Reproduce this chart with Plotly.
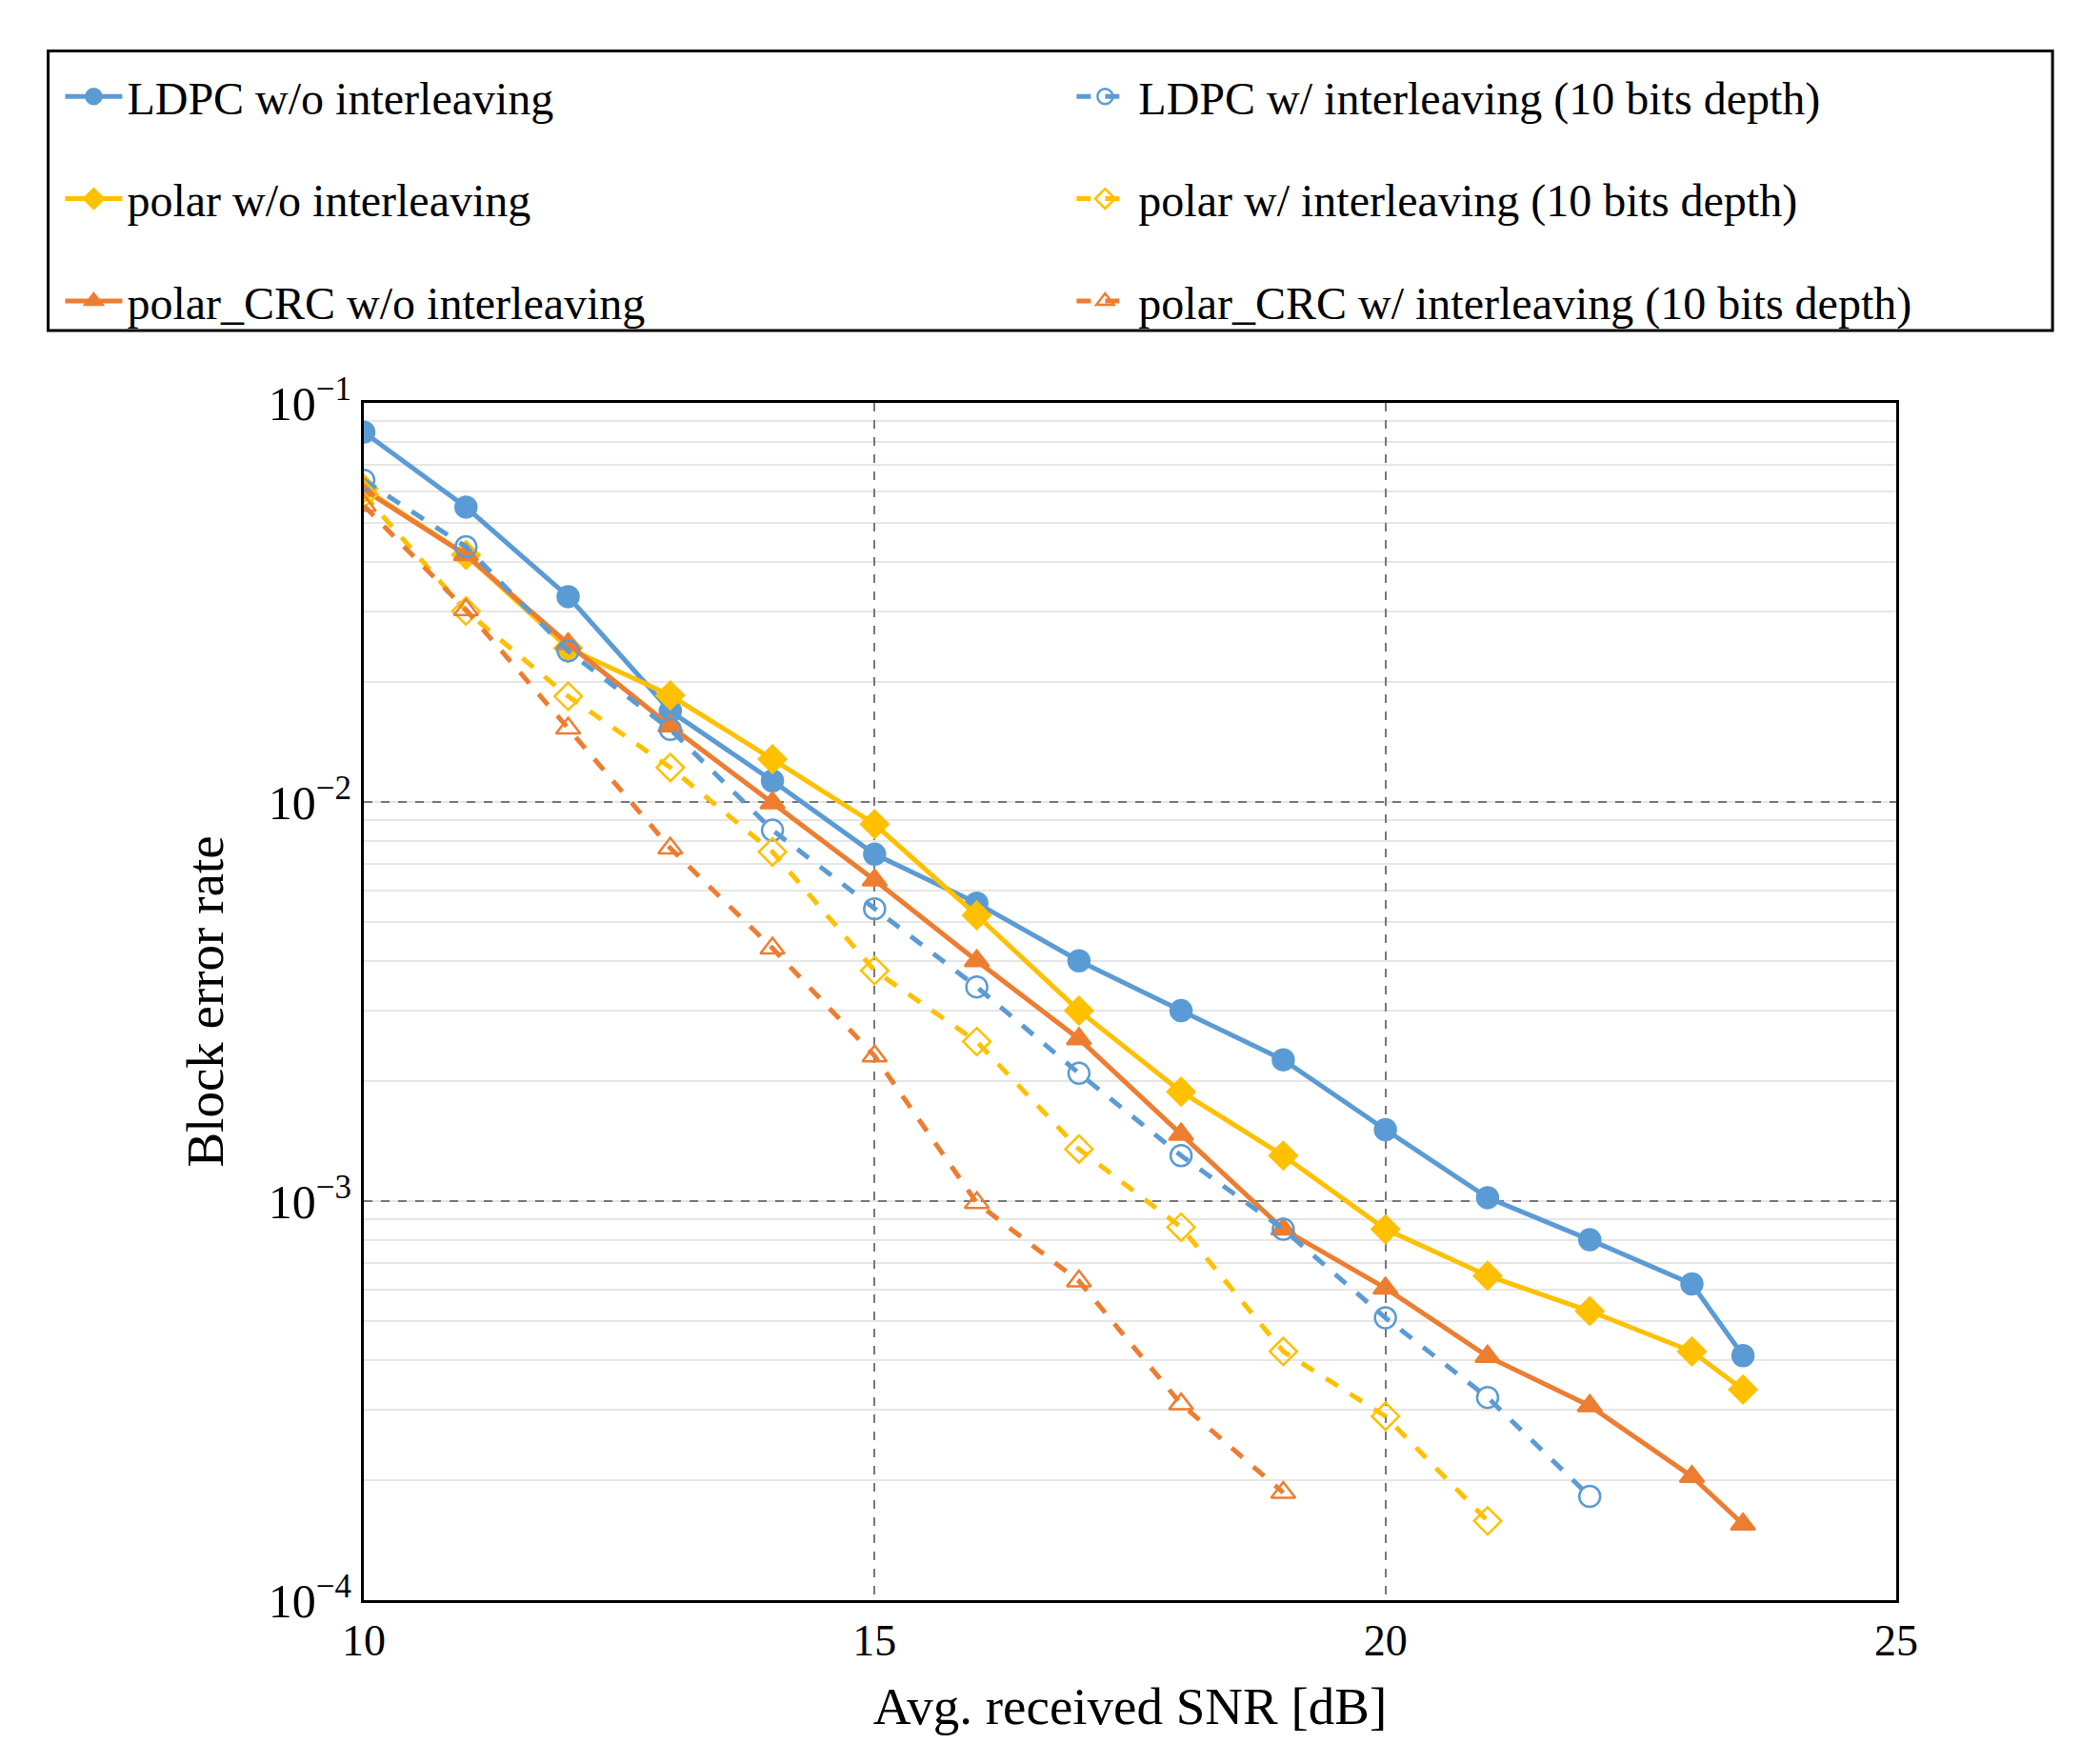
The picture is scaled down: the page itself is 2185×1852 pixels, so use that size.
import plotly.graph_objects as go

snr_a = [10, 11, 12, 13, 14, 15, 16, 17, 18, 19, 20, 21, 22, 23, 23.5]
ldpc_wo = [0.0845, 0.0548, 0.0327, 0.0169, 0.0113, 0.0074, 0.00558, 0.0040, 0.0030, 0.00226, 0.00151, 0.00102, 0.00080, 0.00062, 0.00041]
polar_wo = [0.061, 0.0416, 0.0243, 0.0185, 0.0128, 0.0088, 0.0052, 0.0030, 0.00188, 0.0013, 0.00085, 0.00065, 0.00053, 0.00042, 0.000337]
crc_wo = [0.0606, 0.0416, 0.0249, 0.0155, 0.00995, 0.00637, 0.0040, 0.00255, 0.00147, 0.00085, 0.000605, 0.000408, 0.000307, 0.000204, 0.000155]

snr_ldpc_w = [10, 11, 12, 13, 14, 15, 16, 17, 18, 19, 20, 21, 22]
ldpc_w = [0.064, 0.0436, 0.0239, 0.0152, 0.0085, 0.0054, 0.00344, 0.00209, 0.0013, 0.00085, 0.00051, 0.000322, 0.000182]
snr_polar_w = [10, 11, 12, 13, 14, 15, 16, 17, 18, 19, 20, 21]
polar_w = [0.059, 0.0301, 0.0184, 0.0122, 0.0075, 0.00378, 0.00251, 0.00135, 0.00086, 0.00042, 0.000289, 0.000158]
snr_crc_w = [10, 11, 12, 13, 14, 15, 16, 17, 18, 19]
crc_w = [0.0553, 0.0303, 0.0153, 0.00766, 0.0043, 0.00231, 0.00099, 0.00063, 0.00031, 0.000186]

BLUE, YEL, ORA = "#5B9BD5", "#FFC000", "#ED7D31"
FONT = "Liberation Serif"

fig = go.Figure()
series = [
    ("LDPC w/o interleaving", snr_a, ldpc_wo, BLUE, "solid", "circle", "legend"),
    ("polar w/o interleaving", snr_a, polar_wo, YEL, "solid", "diamond", "legend"),
    ("polar_CRC w/o interleaving", snr_a, crc_wo, ORA, "solid", "triangle-up", "legend"),
    ("LDPC w/ interleaving (10 bits depth)", snr_ldpc_w, ldpc_w, BLUE, "dash", "circle-open", "legend2"),
    ("polar w/ interleaving (10 bits depth)", snr_polar_w, polar_w, YEL, "dash", "diamond-open", "legend2"),
    ("polar_CRC w/ interleaving (10 bits depth)", snr_crc_w, crc_w, ORA, "dash", "triangle-up-open", "legend2"),
]
for name, x, y, c, dash, sym, leg in series:
    fig.add_trace(go.Scatter(
        x=x, y=y, name=name, mode="lines+markers", legend=leg, legendgroup=name,
        line=dict(color=c, width=5, dash=dash),
        marker=dict(symbol=sym, size=22, color=c, line=dict(color=c, width=2.5)),
    ))

leg_common = dict(x=0, y=1.286, xanchor="left", yanchor="top", bgcolor="rgba(0,0,0,0)",
                  font=dict(family=FONT, size=48), tracegroupgap=42, itemwidth=60)
fig.update_layout(
    width=2185, height=1852,
    paper_bgcolor="white", plot_bgcolor="white",
    font=dict(family=FONT, size=46, color="black"),
    margin=dict(l=374, r=202, t=415, b=180),
    legend={**leg_common, "x": -0.198},
    legend2={**leg_common, "x": 0.462},
    shapes=[dict(type="rect", xref="paper", yref="paper", x0=-0.206, x1=1.102,
                 y0=1.0605, y1=1.294, line=dict(color="black", width=3))],
)
fig.update_xaxes(
    range=[10, 25], tickvals=[10, 15, 20, 25], showline=True, linecolor="black",
    linewidth=3, mirror=True, showgrid=True, gridcolor="#777777", griddash="dash",
    gridwidth=2, zeroline=False, ticks="", title=dict(text="Avg. received SNR [dB]", standoff=25),
)
fig.update_yaxes(
    type="log", range=[-4, -1], showline=True, linecolor="black", linewidth=3, mirror=True,
    tickvals=[1e-4, 1e-3, 1e-2, 1e-1],
    ticktext=["10<sup>−4</sup>", "10<sup>−3</sup>", "10<sup>−2</sup>", "10<sup>−1</sup>"],
    tickfont=dict(size=50),
    showgrid=True, gridcolor="#777777", griddash="dash", gridwidth=2,
    minor=dict(showgrid=True, gridcolor="#E6E6E6", gridwidth=2, dtick="D1", griddash="solid"),
    title=dict(text="Block error rate", standoff=30), ticks="",
)
fig.write_html("out.html")
